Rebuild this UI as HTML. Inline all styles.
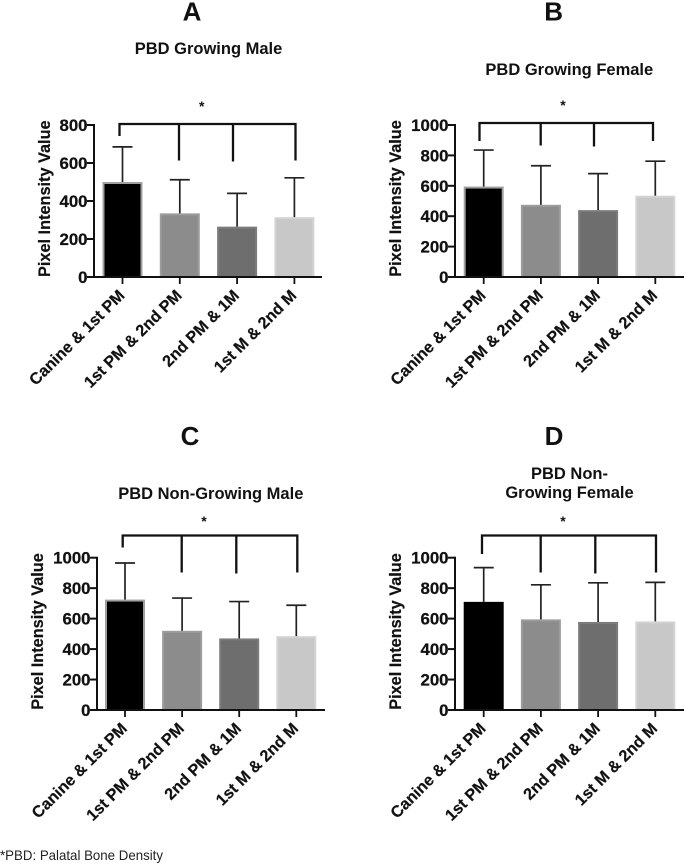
<!DOCTYPE html>
<html>
<head>
<meta charset="utf-8">
<title>Pixel Intensity Panels</title>
<style>
html,body{margin:0;padding:0;background:#fff;}
svg{display:block;font-family:"Liberation Sans",Arial,sans-serif;filter:blur(0.35px);}
</style>
</head>
<body>
<svg id="figure" width="685" height="864" viewBox="0 0 685 864" xmlns="http://www.w3.org/2000/svg">
<text x="0" y="860" font-size="14" fill="#222" textLength="163" lengthAdjust="spacingAndGlyphs">*PBD: Palatal Bone Density</text>
</svg>
<script>
var categories = ["Canine & 1st PM", "1st PM & 2nd PM", "2nd PM & 1M", "1st M & 2nd M"];

var meansA = [500, 335, 265, 315];
var errorsA = [185, 177, 175, 207];
var ticksA = [0, 200, 400, 600, 800];

var meansB = [595, 475, 440, 535];
var errorsB = [240, 257, 240, 227];
var ticksB = [0, 200, 400, 600, 800, 1000];

var meansC = [725, 520, 470, 485];
var errorsC = [240, 215, 242, 203];
var ticksC = [0, 200, 400, 600, 800, 1000];

var meansD = [710, 595, 578, 582];
var errorsD = [225, 227, 257, 256];
var ticksD = [0, 200, 400, 600, 800, 1000];

var barFills = ["#000000", "#8c8c8c", "#6e6e6e", "#c8c8c8"];
var barEdgesDefault = ["#a0a0a0", "#9c9c9c", "#7c7c7c", "#d4d4d4"];
var barEdgesD = ["#000000", "#9c9c9c", "#7c7c7c", "#d4d4d4"];

var NS = "http://www.w3.org/2000/svg";
var figure = document.getElementById("figure");

function make(tag, attrs, parent, content) {
  var el = document.createElementNS(NS, tag);
  for (var k in attrs) { el.setAttribute(k, attrs[k]); }
  if (content !== undefined) { el.textContent = content; }
  parent.appendChild(el);
  return el;
}

function drawPanel(p) {
  var el;
  var g = make("g", {}, figure);
  
  

  var yMax = p.ticks[p.ticks.length - 1];
  function yScale(v) { return p.y0 - (v / yMax) * (p.y0 - p.yTop); }
  function xScale(i) { return p.xFirst + i * p.xStep; }

  el = make("text", { x: p.letterX, y: p.letterY, "font-size": 26, "font-weight": "bold", "text-anchor": "middle", fill: "#111" }, g, p.id);
  
  

  p.titleLines.forEach(function (line, i) {
    var t = make("text", { x: p.titleX, y: p.titleY + i * 19, "font-size": 16.5, "font-weight": "bold", "text-anchor": "middle", fill: "#111" }, g, line);
    
    
  });

  el = make("text", { transform: "translate(" + p.yTitleX + " " + p.yTitleY + ") rotate(-90)", "font-size": 16.3, "font-weight": "bold", "text-anchor": "middle", fill: "#111", stroke: "#111", "stroke-width": 0.2 }, g, "Pixel Intensity Value");
  
  

  p.means.forEach(function (mean, i) {
    var cx = xScale(i);
    var top = yScale(mean);
    var bar = make("rect", { x: cx - 19, y: top + 1, width: 38, height: p.y0 - top - 1, fill: barFills[i], stroke: p.edges[i], "stroke-width": 2 }, g);
    
    

    var errY = yScale(mean + p.errors[i]);
    var stem = make("line", { x1: cx, x2: cx, y1: top, y2: errY, stroke: "#222", "stroke-width": 1.7 }, g);
    
    

    var cap = make("line", { x1: cx - 10, x2: cx + 10, y1: errY, y2: errY, stroke: "#222", "stroke-width": 1.7 }, g);
    
    

    var tick = make("line", { x1: cx, x2: cx, y1: p.y0, y2: p.y0 + 7, stroke: "#111", "stroke-width": 1.8 }, g);
    
    

    var label = make("text", { transform: "translate(" + (cx + 3) + " " + (p.y0 + 19.5) + ") rotate(-45)", "font-size": 16.2, "font-weight": "bold", "text-anchor": "end", fill: "#111", stroke: "#111", "stroke-width": 0.2 }, g, categories[i]);
    
    
  });

  el = make("line", { x1: p.axisX, x2: p.axisX, y1: p.yTop - 1, y2: p.y0 + 1, stroke: "#111", "stroke-width": 2 }, g);
  
  

  el = make("line", { x1: p.axisX - 7, x2: p.axisEnd, y1: p.y0, y2: p.y0, stroke: "#111", "stroke-width": 2 }, g);
  
  

  p.ticks.forEach(function (v) {
    var y = yScale(v);
    var tick = make("line", { x1: p.axisX - 7, x2: p.axisX, y1: y, y2: y, stroke: "#111", "stroke-width": 2 }, g);
    
    

    var label = make("text", { x: p.axisX - 6.5, y: y + 6, "font-size": 16.8, "font-weight": "bold", "text-anchor": "end", fill: "#111", stroke: "#111", "stroke-width": 0.25 }, g, String(v));
    
    
  });

  el = make("path", {
    d: "M" + p.bracket.left + " " + p.bracket.leftEnd + "V" + p.bracket.y + "H" + p.bracket.right + "V" + p.bracket.rightEnd,
    fill: "none", stroke: "#111", "stroke-width": 2.3
  }, g);
  
  

  p.bracket.inner.forEach(function (b) {
    var drop = make("line", { x1: b[0], x2: b[0], y1: p.bracket.y, y2: b[1], stroke: "#111", "stroke-width": 2.3 }, g);
    
    
  });

  el = make("text", { x: p.starX, y: p.starY, "font-size": 14, "font-weight": "bold", "text-anchor": "middle", fill: "#111" }, g, "*");
  
  
}

drawPanel({
  id: "A", means: meansA, errors: errorsA, ticks: ticksA, edges: barEdgesDefault,
  y0: 277, yTop: 125, axisX: 94, axisEnd: 322, xFirst: 122.5, xStep: 57.3,
  letterX: 192, letterY: 20.5, titleLines: ["PBD Growing Male"], titleX: 208.5, titleY: 54,
  yTitleX: 50, yTitleY: 198.7, starX: 201.7, starY: 111,
  bracket: { y: 124, left: 119.5, leftEnd: 136, right: 295.5, rightEnd: 160.5, inner: [[179, 160.5], [233, 161.5]] }
});

drawPanel({
  id: "B", means: meansB, errors: errorsB, ticks: ticksB, edges: barEdgesDefault,
  y0: 277, yTop: 125, axisX: 455, axisEnd: 684, xFirst: 483.7, xStep: 57.2,
  letterX: 553.7, letterY: 20.5, titleLines: ["PBD Growing Female"], titleX: 569.3, titleY: 75,
  yTitleX: 401, yTitleY: 198.5, starX: 563, starY: 110,
  bracket: { y: 123, left: 479.5, leftEnd: 141, right: 653, rightEnd: 141, inner: [[540.7, 145.5], [594, 146.5]] }
});

drawPanel({
  id: "C", means: meansC, errors: errorsC, ticks: ticksC, edges: barEdgesDefault,
  y0: 710, yTop: 557.7, axisX: 97, axisEnd: 325, xFirst: 125, xStep: 57.1,
  letterX: 190, letterY: 445, titleLines: ["PBD Non-Growing Male"], titleX: 210.8, titleY: 499,
  yTitleX: 43, yTitleY: 631.5, starX: 204, starY: 526,
  bracket: { y: 535.5, left: 122.7, leftEnd: 547.5, right: 297.3, rightEnd: 572.5, inner: [[181.7, 572.5], [236.3, 573.5]] }
});

drawPanel({
  id: "D", means: meansD, errors: errorsD, ticks: ticksD, edges: barEdgesD,
  y0: 710, yTop: 557.7, axisX: 455, axisEnd: 684, xFirst: 483.7, xStep: 57.2,
  letterX: 554, letterY: 445, titleLines: ["PBD Non-", "Growing Female"], titleX: 569.5, titleY: 479,
  yTitleX: 401, yTitleY: 631.5, starX: 563, starY: 526,
  bracket: { y: 535.5, left: 482, leftEnd: 554, right: 656, rightEnd: 572.5, inner: [[540.7, 572.5], [595.3, 573.5]] }
});
</script>
</body>
</html>
